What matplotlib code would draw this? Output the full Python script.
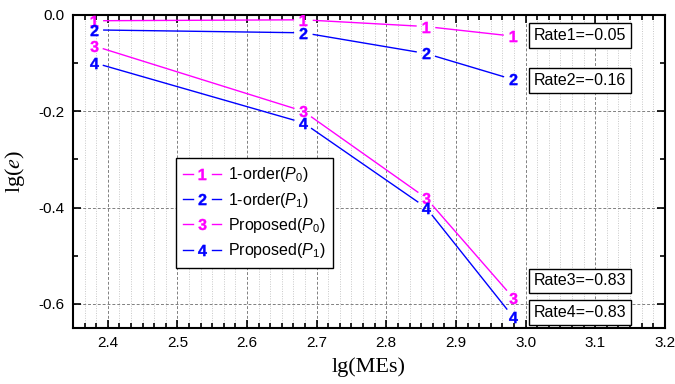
import numpy as np
import matplotlib
matplotlib.use('Agg')
import matplotlib.pyplot as plt
from matplotlib.lines import Line2D
from matplotlib.legend_handler import HandlerTuple
from matplotlib.ticker import MultipleLocator, AutoMinorLocator

plt.rcParams['font.family'] = ['Liberation Sans', 'DejaVu Sans']
plt.rcParams['axes.unicode_minus'] = False
plt.rcParams['mathtext.fontset'] = 'custom'
plt.rcParams['mathtext.rm'] = 'Liberation Sans'
plt.rcParams['mathtext.it'] = 'Liberation Sans:italic'
plt.rcParams['mathtext.bf'] = 'Liberation Sans:bold'

# lg(MEs) for 240, 480, 720, 960 elements
lg_mes = [2.380, 2.681, 2.857, 2.982]

order1_p0 = [-0.012, -0.010, -0.024, -0.044]
order1_p1 = [-0.031, -0.037, -0.080, -0.134]
prop_p0 = [-0.064, -0.200, -0.380, -0.587]
prop_p1 = [-0.099, -0.224, -0.400, -0.627]

series = [order1_p0, order1_p1, prop_p0, prop_p1]
names = ['1-order($P_0$)', '1-order($P_1$)', 'Proposed($P_0$)', 'Proposed($P_1$)']
colors = ['#FF00FF', '#0000FF', '#FF00FF', '#0000FF']
rates = ['Rate1=\u22120.05', 'Rate2=\u22120.16', 'Rate3=\u22120.83', 'Rate4=\u22120.83']
rate_pos = [0.934, 0.791, 0.150, 0.049]


def gapped(ax, x, y, gap):
    # kurze Luecken um die Symbole, wie in Origin
    pts = ax.transData.transform(np.column_stack([x, y]))
    segs = []
    for a, b in zip(pts[:-1], pts[1:]):
        d = b - a
        n = d / np.hypot(*d)
        p0 = ax.transData.inverted().transform(a + n * gap)
        p1 = ax.transData.inverted().transform(b - n * gap)
        segs.append((p0, p1))
    return segs


fig = plt.figure(figsize=(6.75, 3.84), dpi=100)
ax = fig.add_axes([0.108, 0.146, 0.877, 0.815])
ax.set_xlim(2.35, 3.2)
ax.set_ylim(-0.65, 0.0)

ax.xaxis.set_major_locator(MultipleLocator(0.1))
ax.xaxis.set_minor_locator(AutoMinorLocator(6))
ax.yaxis.set_major_locator(MultipleLocator(0.2))
ax.yaxis.set_minor_locator(AutoMinorLocator(2))
ax.xaxis.set_major_formatter(matplotlib.ticker.FormatStrFormatter('%.1f'))
ax.yaxis.set_major_formatter(matplotlib.ticker.FormatStrFormatter('%.1f'))

ax.grid(which='major', axis='both', color='#808080', ls=(0, (3, 2)), lw=0.7)
ax.grid(which='minor', axis='x', color='#c8c8c8', ls=(0, (1, 1.5)), lw=0.7)
ax.tick_params(which='both', direction='in', top=True, right=True, labelsize=11, width=1.2)
ax.tick_params(which='major', length=6, pad=6)
ax.tick_params(which='minor', length=3.5)
for sp in ax.spines.values():
    sp.set_linewidth(1.5)

for i, (ys, c) in enumerate(zip(series, colors)):
    for p0, p1 in gapped(ax, lg_mes, ys, 10):
        ax.plot([p0[0], p1[0]], [p0[1], p1[1]], color=c, lw=1.0)
    ax.plot(lg_mes, ys, ls='none', marker=r'$\mathbf{%d}$' % (i + 1),
            color=c, markersize=8, markeredgewidth=0.3, zorder=5)

for txt, yp in zip(rates, rate_pos):
    ax.text(0.856, yp, txt, transform=ax.transAxes, ha='center', va='center',
            fontsize=11.5, bbox=dict(boxstyle='square,pad=0.3', fc='white', ec='black', lw=1))

handles = []
for i, c in enumerate(colors):
    seg = Line2D([], [], color=c, lw=1.0)
    mk = Line2D([], [], ls='none', marker=r'$\mathbf{%d}$' % (i + 1), color=c,
                markersize=8, markeredgewidth=0.3)
    handles.append((seg, mk, seg))
leg = ax.legend(handles, names, handler_map={tuple: HandlerTuple(ndivide=None, pad=0.3)},
                loc='upper left', bbox_to_anchor=(0.174, 0.543), borderaxespad=0,
                fancybox=False, edgecolor='black', framealpha=1, fontsize=11.5,
                handlelength=2.4, numpoints=1, labelspacing=0.4, handletextpad=0.4,
                borderpad=0.45)
leg.get_frame().set_linewidth(1.0)

ax.set_xlabel('lg(MEs)', family='Liberation Serif', fontsize=16, labelpad=5)
ax.set_ylabel('lg($e$)', family='Liberation Serif', fontsize=16, labelpad=8)
ax.yaxis.label.set_math_fontfamily('stix')
ax.xaxis.label.set_math_fontfamily('stix')

fig.savefig('out.png', dpi=100)
